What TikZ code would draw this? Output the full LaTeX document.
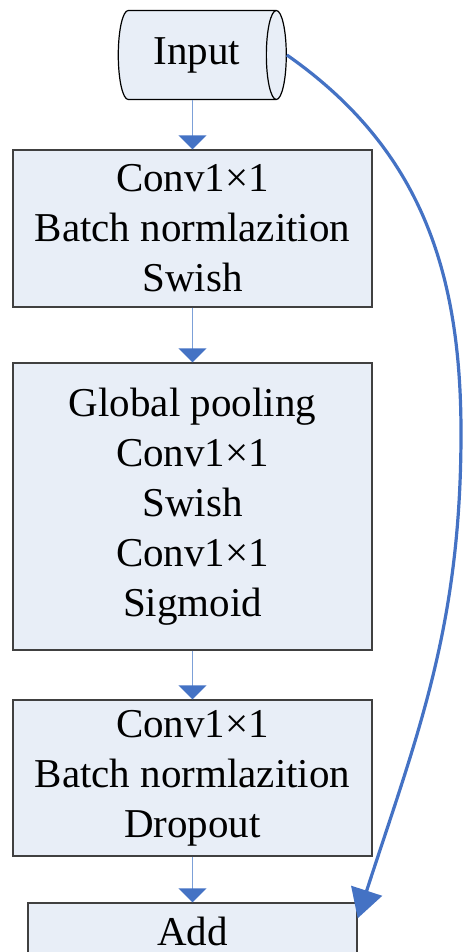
\documentclass[tikz,border=0pt]{standalone}
\usepackage{fontspec}
\setmainfont{Liberation Serif}
\usepackage{tikz}
\usetikzlibrary{arrows.meta,shapes.geometric}
\definecolor{boxfill}{RGB}{232,238,247}
\definecolor{arrdark}{RGB}{68,114,196}
\definecolor{arrlight}{RGB}{124,160,216}

\begin{document}
\begin{tikzpicture}[x=1pt,y=-1pt,
  block/.style={draw=black!75,fill=boxfill,line width=1.4pt,minimum width=359pt,
                align=center,inner sep=0pt,font=\fontsize{41}{50}\selectfont},
  varr/.style={-{Triangle[width=28pt,length=14pt,color=arrdark]},line width=1.8pt,arrlight},
  skiparr/.style={-{Triangle[width=32pt,length=29pt]},line width=3.2pt,arrdark}]
  \useasboundingbox (0,0) rectangle (464,952);
  \clip (0,0) rectangle (464,952);
  \node[cylinder,draw=black,fill=boxfill,line width=1.2pt,minimum width=89pt,
        minimum height=168pt,aspect=0.56,inner sep=0pt,
        font=\fontsize{41}{50}\selectfont] (inp) at (197,55) {Input};
  \node[block,minimum height=157pt] (conv) at (192.5,228.5)
    {Conv1×1\\Batch normlazition\\Swish};
  \node[block,minimum height=287pt] (se) at (192.5,506.5)
    {Global pooling\\Conv1×1\\Swish\\Conv1×1\\Sigmoid};
  \node[block,minimum height=156pt] (proj) at (192.5,778)
    {Conv1×1\\Batch normlazition\\Dropout};
  \node[block,minimum width=329pt,minimum height=56pt] (add) at (192.5,931) {Add};
  \draw[varr] (conv.north |- inp.south) -- (conv.north);
  \draw[varr] (conv.south) -- (se.north);
  \draw[varr] (se.south) -- (proj.north);
  \draw[varr] (proj.south) -- (add.north);
  % skip connection
  \coordinate (bulge) at (461,433);
  \coordinate (addin) at ([yshift=-16pt]add.north east);
  \draw[skiparr] (inp.east) to[out=-35,in=90] (bulge) to[out=-90,in=72] (addin);
\end{tikzpicture}
\end{document}
